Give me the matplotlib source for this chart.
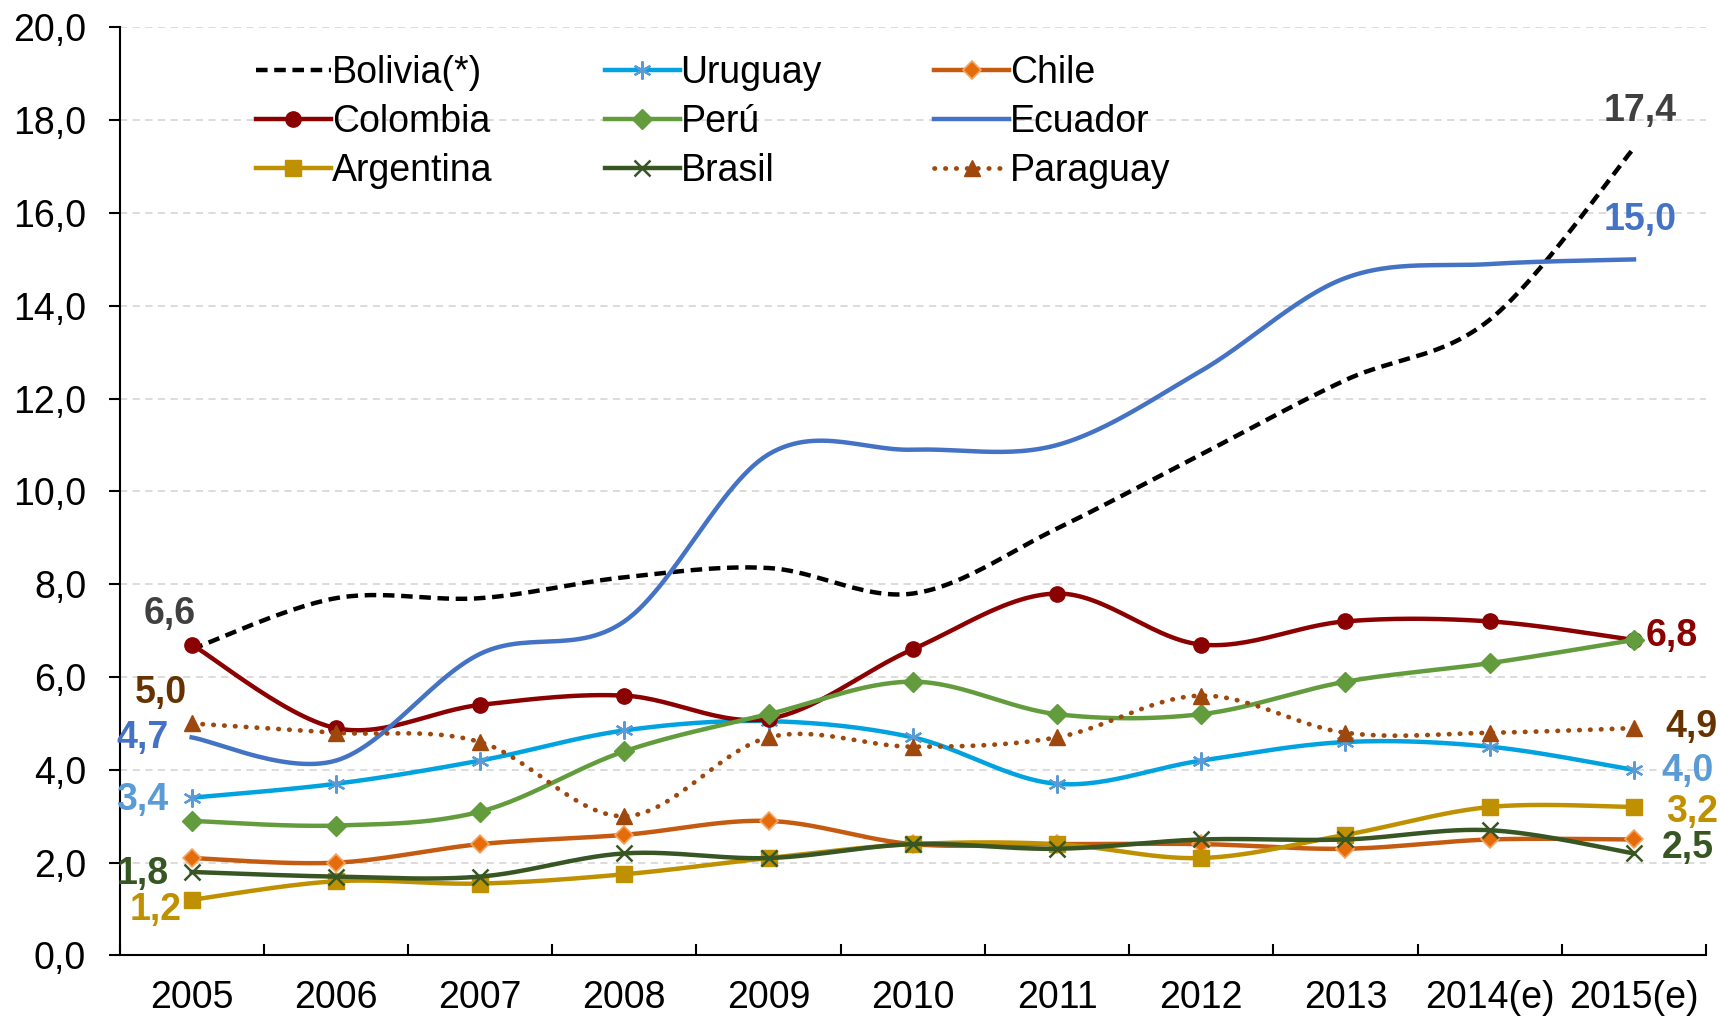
import numpy as np
import matplotlib
matplotlib.use("Agg")
from matplotlib import pyplot as plt
from matplotlib.lines import Line2D

plt.rcParams['font.family'] = ['Liberation Sans', 'DejaVu Sans']

# datos
years = ['2005', '2006', '2007', '2008', '2009', '2010', '2011', '2012', '2013', '2014(e)', '2015(e)']
bolivia = [6.6, 7.7, 7.7, 8.15, 8.35, 7.8, 9.2, 10.8, 12.4, 13.7, 17.4]
uruguay = [3.4, 3.7, 4.2, 4.85, 5.05, 4.7, 3.7, 4.2, 4.6, 4.5, 4.0]
chile = [2.1, 2.0, 2.4, 2.6, 2.9, 2.4, 2.4, 2.4, 2.3, 2.5, 2.5]
colombia = [6.7, 4.9, 5.4, 5.6, 5.1, 6.6, 7.8, 6.7, 7.2, 7.2, 6.8]
peru = [2.9, 2.8, 3.1, 4.4, 5.2, 5.9, 5.2, 5.2, 5.9, 6.3, 6.8]
ecuador = [4.7, 4.2, 6.5, 7.2, 10.8, 10.9, 11.0, 12.6, 14.6, 14.9, 15.0]
argentina = [1.2, 1.6, 1.55, 1.75, 2.1, 2.4, 2.4, 2.1, 2.6, 3.2, 3.2]
brasil = [1.8, 1.7, 1.7, 2.2, 2.1, 2.4, 2.3, 2.5, 2.5, 2.7, 2.2]
paraguay = [5.0, 4.8, 4.6, 3.0, 4.7, 4.5, 4.7, 5.6, 4.8, 4.8, 4.9]

# etiquetas de datos (texto, x, y, color)
left_labels = [('6,6', -0.15, 7.35, '#404040'), ('5,0', -0.21, 5.65, '#663300'),
               ('4,7', -0.34, 4.68, '#4472C4'), ('3,4', -0.34, 3.36, '#5B9BD5'),
               ('1,8', -0.34, 1.75, '#375623'), ('1,2', -0.25, 0.99, '#BF9000')]
right_labels = [('17,4', 10.04, 18.2, '#404040'), ('15,0', 10.04, 15.84, '#4472C4'),
                ('6,8', 10.26, 6.88, '#8B0000'), ('4,9', 10.4, 4.92, '#663300'),
                ('4,0', 10.37, 3.97, '#5B9BD5'), ('3,2', 10.4, 3.1, '#BF9000'),
                ('2,5', 10.37, 2.32, '#375623')]


def smooth(y, n=30):
    # curva suavizada tipo Excel (Catmull-Rom / Bezier)
    y = np.asarray(y, float)
    x = np.arange(len(y), dtype=float)
    xs, ys = [], []
    t = np.linspace(0, 1, n)
    for i in range(len(y) - 1):
        p0 = np.array([x[i], y[i]])
        p3 = np.array([x[i + 1], y[i + 1]])
        pm = np.array([x[i - 1], y[i - 1]]) if i > 0 else p0
        pp = np.array([x[i + 2], y[i + 2]]) if i + 2 < len(y) else p3
        c1 = p0 + (p3 - pm) / 6
        c2 = p3 - (pp - p0) / 6
        b = ((1 - t) ** 3)[:, None] * p0 + (3 * (1 - t) ** 2 * t)[:, None] * c1 + \
            (3 * (1 - t) * t ** 2)[:, None] * c2 + (t ** 3)[:, None] * p3
        xs.extend(b[:, 0])
        ys.extend(b[:, 1])
    return xs, ys


fig = plt.figure(figsize=(17.2, 10.18), dpi=100)
ax = fig.add_axes([0.0695, 0.0614, 0.9224, 0.9117])

lw = 3.2
fs = 27
series = [
    ('Bolivia(*)', bolivia, dict(color='black', ls=(0, (2.6, 1.5)), lw=lw), None),
    ('Uruguay', uruguay, dict(color='#00A3E0', lw=lw), dict(marker=(6, 2, 0), ms=13, mec='#5B9BD5', mfc='#5B9BD5', mew=1.6)),
    ('Chile', chile, dict(color='#C55A11', lw=lw), dict(marker='D', ms=9.5, mfc='#E46C0A', mec='#F4A460', mew=1.2)),
    ('Colombia', colombia, dict(color='#8B0000', lw=lw), dict(marker='o', ms=11, mfc='#8B0000', mec='#8B0000')),
    ('Perú', peru, dict(color='#629C3D', lw=lw), dict(marker='D', ms=10, mfc='#629C3D', mec='#629C3D')),
    ('Ecuador', ecuador, dict(color='#4472C4', lw=lw), None),
    ('Argentina', argentina, dict(color='#BF9000', lw=lw), dict(marker='s', ms=11, mfc='#BF9000', mec='#BF9000')),
    ('Brasil', brasil, dict(color='#375623', lw=lw), dict(marker='x', ms=11, mec='#375623', mew=1.8)),
    ('Paraguay', paraguay, dict(color='#9E480E', ls=(0, (0.1, 2.2)), lw=3.4, dash_capstyle='round'),
     dict(marker='^', ms=12, mfc='#9E480E', mec='#9E480E')),
]

handles = {}
x = np.arange(len(years))
for i, (name, vals, lkw, mkw) in enumerate(series):
    sx, sy = smooth(vals)
    ax.plot(sx, sy, zorder=3 + i, **lkw)
    if mkw is not None:
        ax.plot(x, vals, ls='none', zorder=3 + i, **mkw)
    hkw = dict(lkw)
    if mkw is not None:
        hkw.update(mkw)
    handles[name] = Line2D([], [], **hkw)

order = ['Bolivia(*)', 'Colombia', 'Argentina', 'Uruguay', 'Perú', 'Brasil',
         'Chile', 'Ecuador', 'Paraguay']
ax.legend([handles[k] for k in order], order, ncol=3, loc='upper left',
          bbox_to_anchor=(0.086, 0.97), frameon=False, fontsize=fs,
          handlelength=2.0, handletextpad=0.02, columnspacing=3.0,
          labelspacing=0.35, borderpad=0, borderaxespad=0)

for txt, tx, ty, c in left_labels + right_labels:
    ax.text(tx, ty, txt, color=c, fontsize=fs, fontweight='bold',
            ha='center', va='center', clip_on=False, zorder=20)

ax.set_xlim(-0.5, len(years) - 0.5)
ax.set_ylim(0, 20)
ax.set_yticks(np.arange(0, 20.1, 2))
ax.set_yticklabels([f'{v:.1f}'.replace('.', ',') for v in np.arange(0, 20.1, 2)])
ax.set_xticks(x)
ax.set_xticklabels(years)
ax.set_xticks(np.arange(-0.5, len(years), 1), minor=True)
ax.tick_params(axis='x', which='major', length=0, labelsize=fs, pad=18)
ax.tick_params(axis='x', which='minor', direction='in', length=8, width=1.5)
ax.tick_params(axis='y', length=8, width=1.5, labelsize=fs, pad=16)
ax.grid(axis='y', color='#D9D9D9', ls=(0, (4, 3)), lw=1.3)
ax.set_axisbelow(True)
for s in ['top', 'right']:
    ax.spines[s].set_visible(False)
ax.spines['left'].set_linewidth(1.5)
ax.spines['bottom'].set_linewidth(1.5)

fig.savefig('out.png', dpi=100)
